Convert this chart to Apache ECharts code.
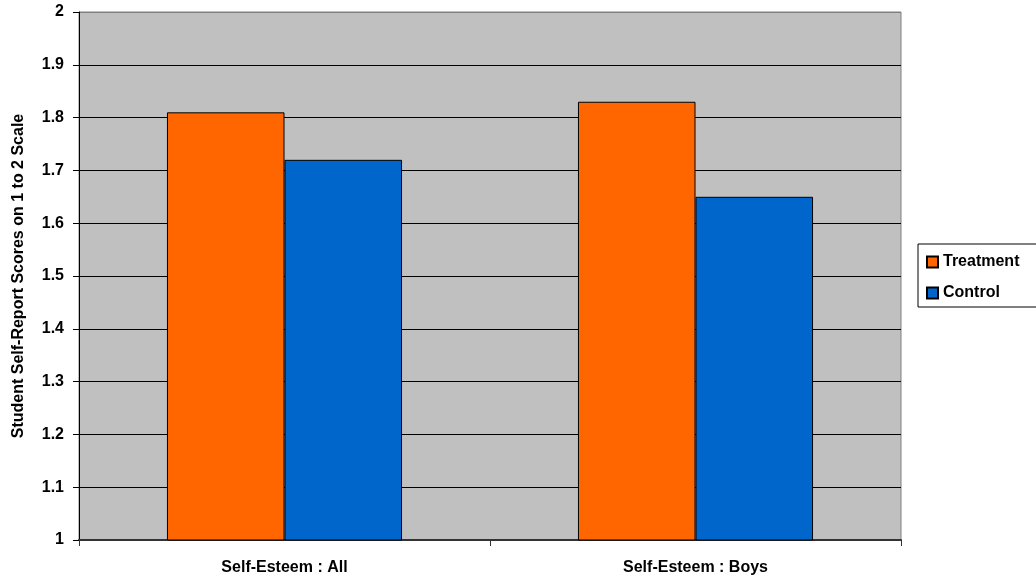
<!DOCTYPE html>
<html>
<head>
<meta charset="utf-8">
<script src="https://cdn.jsdelivr.net/npm/echarts@6/dist/echarts.min.js"></script>
<style>
  html, body { margin: 0; padding: 0; background: #ffffff; }
  #chart { width: 1036px; height: 581px; }
</style>
</head>
<body>
<div id="chart"></div>
<script>
// Mean self-report scores (1 to 2 scale) by group
const categories = ['Self-Esteem : All', 'Self-Esteem : Boys'];
const treatment = [1.81, 1.83];
const control = [1.72, 1.65];
const seriesNames = ['Treatment', 'Control'];
const yTicks = { min: 1, max: 2, step: 0.1 };

const FONT = 'Liberation Sans, Arial, sans-serif';
const labelText = { color: '#000', fontFamily: FONT, fontWeight: 'bold', fontSize: 16 };

// gridlines: black everywhere except the top edge, which follows the grey frame
const lineCount = Math.round((yTicks.max - yTicks.min) / yTicks.step) + 1;
const gridColors = [];
for (let i = 0; i < lineCount; i++) gridColors.push(i === lineCount - 1 ? '#808080' : '#000000');

const chart = echarts.init(document.getElementById('chart'), null, { renderer: 'canvas' });
chart.setOption({
  animation: false,
  backgroundColor: '#ffffff',
  grid: {
    left: 79, top: 12, right: 135, bottom: 41,
    show: true,
    backgroundColor: '#C0C0C0',
    borderColor: '#808080',
    borderWidth: 1
  },
  legend: {
    orient: 'vertical',
    left: 918, top: 244,
    data: seriesNames,
    icon: 'rect',
    itemWidth: 11, itemHeight: 11,
    itemGap: 15,
    padding: [10, 30, 6, 8],
    borderColor: '#000', borderWidth: 1,
    textStyle: labelText
  },
  xAxis: {
    type: 'category',
    data: categories,
    axisLine: { lineStyle: { color: '#333', width: 2 } },
    axisTick: { show: true, alignWithLabel: false, length: 6, lineStyle: { color: '#333' } },
    axisLabel: Object.assign({ margin: 20 }, labelText),
    splitLine: { show: false }
  },
  yAxis: {
    type: 'value',
    min: yTicks.min, max: yTicks.max, interval: yTicks.step,
    name: 'Student Self-Report Scores on 1 to 2 Scale',
    nameLocation: 'middle',
    nameRotate: 90,
    nameGap: 52,
    nameTextStyle: labelText,
    axisLine: { show: true, lineStyle: { color: '#000', width: 1 } },
    axisTick: { show: true, length: 6, lineStyle: { color: '#000' } },
    axisLabel: Object.assign({ margin: 15 }, labelText),
    splitLine: { show: true, lineStyle: { color: gridColors, width: 1 } }
  },
  series: [
    {
      name: seriesNames[0], type: 'bar', data: treatment,
      barGap: '0%', barCategoryGap: '42.8%',
      itemStyle: { color: '#FF6600', borderColor: '#000', borderWidth: 1 }
    },
    {
      name: seriesNames[1], type: 'bar', data: control,
      barGap: '0%', barCategoryGap: '42.8%',
      itemStyle: { color: '#0066CC', borderColor: '#000', borderWidth: 1 }
    }
  ]
});
</script>
</body>
</html>
